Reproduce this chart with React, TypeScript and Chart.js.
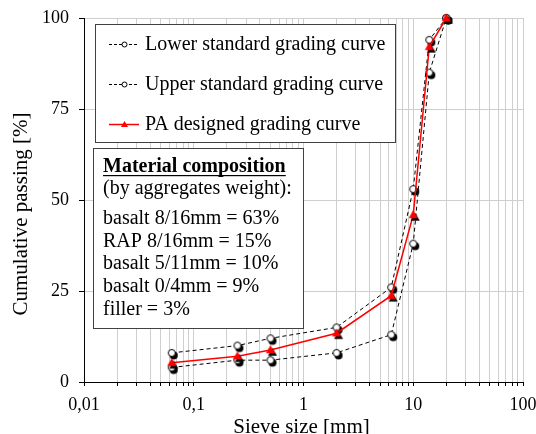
import React, { useEffect, useRef } from 'react';
import { Chart, registerables } from 'chart.js';

Chart.register(...registerables);

const sieveSizes = [0.063, 0.25, 0.5, 2, 6.3, 10, 14, 20];
const lowerCurve = [4, 6, 6, 8, 13, 38, 85, 100];
const upperCurve = [8, 10, 12, 15, 26, 53, 94, 100];
const paCurve = [5.3, 7.1, 8.8, 13.4, 23.7, 45.9, 92.1, 100];

const seriesNames = [
  'Lower standard grading curve',
  'Upper standard grading curve',
  'PA designed grading curve',
];

const xMajorTicks = [0.01, 0.1, 1, 10, 100];
const xTickLabels = ['0,01', '0,1', '1', '10', '100'];
const yMin = 0;
const yMax = 100;
const yStep = 25;

const xTitle = 'Sieve size [mm]';
const yTitle = 'Cumulative passing [%]';

const compositionTitle = 'Material composition';
const compositionSubtitle = '(by aggregates weight):';
const compositionLines = [
  'basalt 8/16mm = 63%',
  'RAP 8/16mm = 15%',
  'basalt 5/11mm = 10%',
  'basalt 0/4mm = 9%',
  'filler = 3%',
];

const FONT = "'Liberation Serif', 'Times New Roman', serif";
const GRID = '#cfcfcf';

function buildXTicks(): number[] {
  const out: number[] = [];
  for (let i = 0; i < xMajorTicks.length - 1; i++) {
    for (let m = 1; m <= 9; m++) out.push(Number((m * xMajorTicks[i]).toPrecision(4)));
  }
  out.push(xMajorTicks[xMajorTicks.length - 1]);
  return out;
}

function circleMarker(shadow: boolean, r: number): HTMLCanvasElement {
  const size = 20;
  const c = document.createElement('canvas');
  c.width = size;
  c.height = size;
  const ctx = c.getContext('2d')!;
  const cx = size / 2;
  const cy = size / 2;
  if (shadow) {
    ctx.fillStyle = '#000';
    ctx.beginPath();
    ctx.arc(cx + 2, cy + 2.5, r + 0.5, 0, Math.PI * 2);
    ctx.fill();
  }
  ctx.fillStyle = '#fff';
  ctx.strokeStyle = '#000';
  ctx.lineWidth = 1;
  ctx.beginPath();
  ctx.arc(cx, cy, r, 0, Math.PI * 2);
  ctx.fill();
  ctx.stroke();
  return c;
}

function triPath(ctx: CanvasRenderingContext2D, cx: number, cy: number, hw: number, h: number) {
  ctx.beginPath();
  ctx.moveTo(cx, cy - h * 0.6);
  ctx.lineTo(cx + hw, cy + h * 0.4);
  ctx.lineTo(cx - hw, cy + h * 0.4);
  ctx.closePath();
}

function triangleMarker(shadow: boolean, hw: number, h: number): HTMLCanvasElement {
  const size = 22;
  const c = document.createElement('canvas');
  c.width = size;
  c.height = size;
  const ctx = c.getContext('2d')!;
  const cx = size / 2;
  const cy = size / 2;
  if (shadow) {
    ctx.fillStyle = '#000';
    triPath(ctx, cx + 2, cy + 2.5, hw, h);
    ctx.fill();
  }
  ctx.fillStyle = '#ff0000';
  triPath(ctx, cx, cy, hw, h);
  ctx.fill();
  return c;
}

const overlayPlugin = {
  id: 'overlay',
  afterDraw(chart: any) {
    const ctx: CanvasRenderingContext2D = chart.ctx;
    const area = chart.chartArea;
    ctx.save();

    // Axis titles
    ctx.fillStyle = '#000';
    ctx.font = `21px ${FONT}`;
    ctx.textAlign = 'center';
    ctx.textBaseline = 'alphabetic';
    ctx.fillText(xTitle, (area.left + area.right) / 2 - 2, 433);
    ctx.save();
    ctx.translate(27, 214);
    ctx.rotate(-Math.PI / 2);
    ctx.fillText(yTitle, 0, 0);
    ctx.restore();

    // Legend box
    const lx = 95.5, ly = 24.5, lw = 300, lh = 118;
    ctx.fillStyle = '#fff';
    ctx.fillRect(lx, ly, lw, lh);
    ctx.strokeStyle = '#404040';
    ctx.lineWidth = 1;
    ctx.strokeRect(lx, ly, lw, lh);
    const rows = [44, 84, 124];
    for (let i = 0; i < 3; i++) {
      const y = rows[i];
      ctx.save();
      if (i < 2) {
        ctx.strokeStyle = '#000';
        ctx.lineWidth = 1;
        ctx.setLineDash([3, 2]);
      } else {
        ctx.strokeStyle = '#ff0000';
        ctx.lineWidth = 1.5;
      }
      ctx.beginPath();
      ctx.moveTo(109, y + 0.5);
      ctx.lineTo(139, y + 0.5);
      ctx.stroke();
      ctx.restore();
      if (i < 2) {
        ctx.fillStyle = '#fff';
        ctx.strokeStyle = '#000';
        ctx.lineWidth = 1;
        ctx.beginPath();
        ctx.arc(124.5, y + 0.5, 2.5, 0, Math.PI * 2);
        ctx.fill();
        ctx.stroke();
      } else {
        ctx.fillStyle = '#ff0000';
        triPath(ctx, 124.5, y + 0.5, 3.5, 6);
        ctx.fill();
      }
      ctx.fillStyle = '#000';
      ctx.font = `20px ${FONT}`;
      ctx.textAlign = 'left';
      ctx.textBaseline = 'middle';
      ctx.fillText(seriesNames[i], 145, y + 1);
    }

    // Material composition box
    const bx = 93.5, by = 148.5, bw = 210, bh = 180;
    ctx.fillStyle = '#fff';
    ctx.fillRect(bx, by, bw, bh);
    ctx.strokeStyle = '#404040';
    ctx.lineWidth = 1;
    ctx.strokeRect(bx, by, bw, bh);
    ctx.fillStyle = '#000';
    ctx.textAlign = 'left';
    ctx.textBaseline = 'middle';
    ctx.font = `bold 20px ${FONT}`;
    const tx = 103;
    ctx.fillText(compositionTitle, tx, 167);
    const tw = ctx.measureText(compositionTitle).width;
    ctx.fillRect(tx, 175, tw, 1.2);
    ctx.font = `20px ${FONT}`;
    ctx.fillText(compositionSubtitle, tx, 189);
    const lineYs = [219, 242, 264, 287, 310];
    compositionLines.forEach((t, i) => ctx.fillText(t, tx, lineYs[i]));

    ctx.restore();
  },
};

export default function App() {
  const ref = useRef<HTMLCanvasElement | null>(null);

  useEffect(() => {
    document.body.style.margin = '0';
    const canvas = ref.current!;
    const xTickValues = buildXTicks();
    const circ = circleMarker(true, 3.5);
    const tri = triangleMarker(true, 4.5, 8);

    const toPoints = (vals: number[]) => sieveSizes.map((x, i) => ({ x, y: vals[i] }));

    const chart = new Chart(canvas, {
      type: 'line',
      data: {
        datasets: [
          {
            label: seriesNames[0],
            data: toPoints(lowerCurve),
            borderColor: '#000',
            borderWidth: 1,
            borderDash: [4, 3],
            pointStyle: circ as any,
            pointRadius: 4,
            clip: false as any,
            order: 2,
          },
          {
            label: seriesNames[1],
            data: toPoints(upperCurve),
            borderColor: '#000',
            borderWidth: 1,
            borderDash: [4, 3],
            pointStyle: circ as any,
            pointRadius: 4,
            clip: false as any,
            order: 1,
          },
          {
            label: seriesNames[2],
            data: toPoints(paCurve),
            borderColor: '#ff0000',
            borderWidth: 1.5,
            pointStyle: tri as any,
            pointRadius: 4,
            clip: false as any,
            order: 0,
          },
        ],
      },
      options: {
        responsive: false,
        animation: false,
        events: [],
        devicePixelRatio: 1,
        layout: { padding: { top: 18, right: 13, left: 0, bottom: 0 } },
        plugins: {
          legend: { display: false },
          tooltip: { enabled: false },
          title: { display: false },
        },
        elements: { line: { tension: 0 } },
        scales: {
          x: {
            type: 'logarithmic',
            min: xMajorTicks[0],
            max: xMajorTicks[xMajorTicks.length - 1],
            afterBuildTicks: (scale: any) => {
              scale.ticks = xTickValues.map((v) => ({ value: v }));
            },
            afterFit: (s: any) => {
              s.height = 52;
              s.paddingLeft = 0;
              s.paddingRight = 0;
            },
            grid: {
              color: GRID,
              lineWidth: 1,
              drawTicks: true,
              tickLength: 4,
              tickColor: '#000',
            },
            border: { color: '#000', width: 1 },
            ticks: {
              autoSkip: false,
              maxRotation: 0,
              minRotation: 0,
              padding: 8,
              color: '#000',
              font: { family: FONT, size: 18 },
              callback: (value: any) => {
                const v = Number(value);
                const i = xMajorTicks.findIndex((m) => Math.abs(m - v) / m < 1e-6);
                return i >= 0 ? xTickLabels[i] : '';
              },
            },
          },
          y: {
            type: 'linear',
            min: yMin,
            max: yMax,
            afterFit: (s: any) => {
              s.width = 84;
              s.paddingTop = 0;
              s.paddingBottom = 0;
            },
            grid: {
              color: GRID,
              lineWidth: 1,
              drawTicks: true,
              tickLength: 5,
              tickColor: '#000',
            },
            border: { color: '#000', width: 1 },
            ticks: {
              stepSize: yStep,
              padding: 10,
              color: '#000',
              font: { family: FONT, size: 18 },
            },
          },
        },
      },
      plugins: [overlayPlugin],
    } as any);

    return () => chart.destroy();
  }, []);

  return <canvas ref={ref} width={536} height={434} style={{ display: 'block' }} />;
}
